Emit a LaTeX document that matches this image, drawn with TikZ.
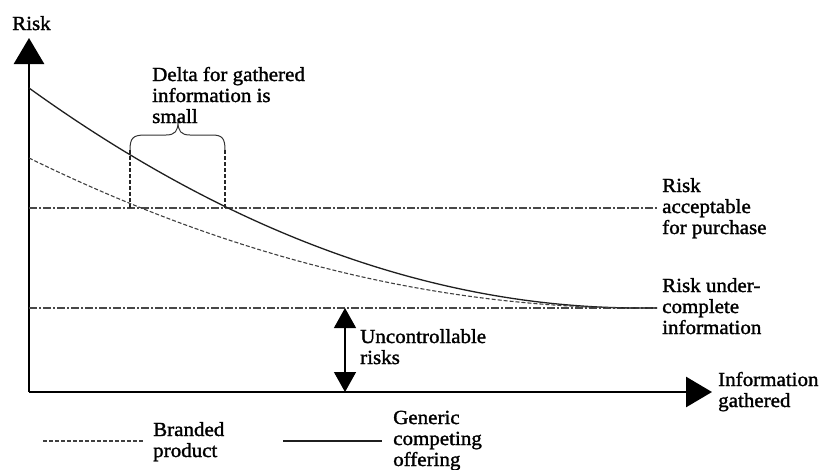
\documentclass[tikz,border=0pt]{standalone}
\usepackage{fontspec}
\setmainfont{Liberation Serif}[FakeStretch=1.05,FakeBold=1.5]
\usetikzlibrary{arrows.meta}
\begin{document}
\begin{tikzpicture}[x=1pt,y=-1pt,
  lbl/.style={anchor=base west,inner sep=0pt,align=left,
    font=\fontsize{20}{21}\selectfont},
  axis/.style={line width=2.8pt,-{Triangle[length=26pt,width=30pt]}},
  level/.style={draw=black!72,line width=2pt,
    dash pattern=on 8pt off 2pt on 2pt off 2pt},
  genericline/.style={draw=black!88,line width=1.3pt},
  brandedline/.style={draw=black!75,line width=1.1pt,dash pattern=on 4pt off 2pt},
  bracedash/.style={draw=black!85,line width=1.4pt,dash pattern=on 4pt off 2pt},
  dblarrow/.style={line width=1.3pt,
    {Triangle[length=20pt,width=22pt]}-{Triangle[length=20pt,width=22pt]}}]
\useasboundingbox (0,0) rectangle (824,469);

% axes
\coordinate (O) at (29,392);
\coordinate (ytip) at (29,38);
\coordinate (xtip) at (712,392);
\draw[axis] (O) -- (ytip);
\draw[axis] (O) -- (xtip);
% multi-line labels are placed by the baseline of their last line
\node[lbl] (risk) at (12,30) {Risk};
\node[lbl] (info) at (718,407) {Information\\gathered};

% reference levels
\coordinate (accL) at (29,208);
\coordinate (accR) at (657,208);
\coordinate (minL) at (29,308);
\coordinate (minR) at (657,308);
\draw[level] (accL) -- (accR);
\draw[level] (minL) -- (minR);
\node[lbl] (acc) at (662,234) {Risk\\acceptable\\for purchase};
\node[lbl] (min) at (662,334) {Risk under-\\complete\\information};

% risk curves
\coordinate (gstart) at (29,88);
\coordinate (bstart) at (29,158);
\coordinate (meet) at (640,308);
\draw[genericline] (gstart) .. controls (233,235) and (437,308) .. (meet) -- (minR);
\draw[brandedline] (bstart) .. controls (233,258) and (437,308) .. (meet) -- (minR);

% delta brace
\coordinate (bl) at (130,150);
\coordinate (br) at (225,150);
\coordinate (bltop) at (130,208);
\coordinate (brtop) at (225,208);
\draw[bracedash] (bl) -- (bltop);
\draw[bracedash] (br) -- (brtop);
\draw[draw=black!80,line width=1pt] (bl) .. controls (130,138) and (133,135) .. (145,135)
  -- (166,135) .. controls (175,135) and (178,131) .. (178,122)
  .. controls (178,131) and (181,135) .. (190,135)
  -- (212,135) .. controls (222,135) and (225,138) .. (br);
\node[lbl] (delta) at (152,123) {Delta for gathered\\information is\\small};

% uncontrollable band
\coordinate (ut) at (345,308);
\coordinate (ub) at (345,392);
\draw[dblarrow] (ut) -- (ub);
\node[lbl] (unc) at (360,364) {Uncontrollable\\risks};

% legend
\coordinate (lb1) at (43,441);
\coordinate (lb2) at (143,441);
\coordinate (lg1) at (283,441);
\coordinate (lg2) at (382,441);
\draw[brandedline] (lb1) -- (lb2);
\draw[genericline] (lg1) -- (lg2);
\node[lbl] (branded) at (153,457) {Branded\\product};
\node[lbl] (generic) at (393,466) {Generic\\competing\\offering};
\end{tikzpicture}
\end{document}
